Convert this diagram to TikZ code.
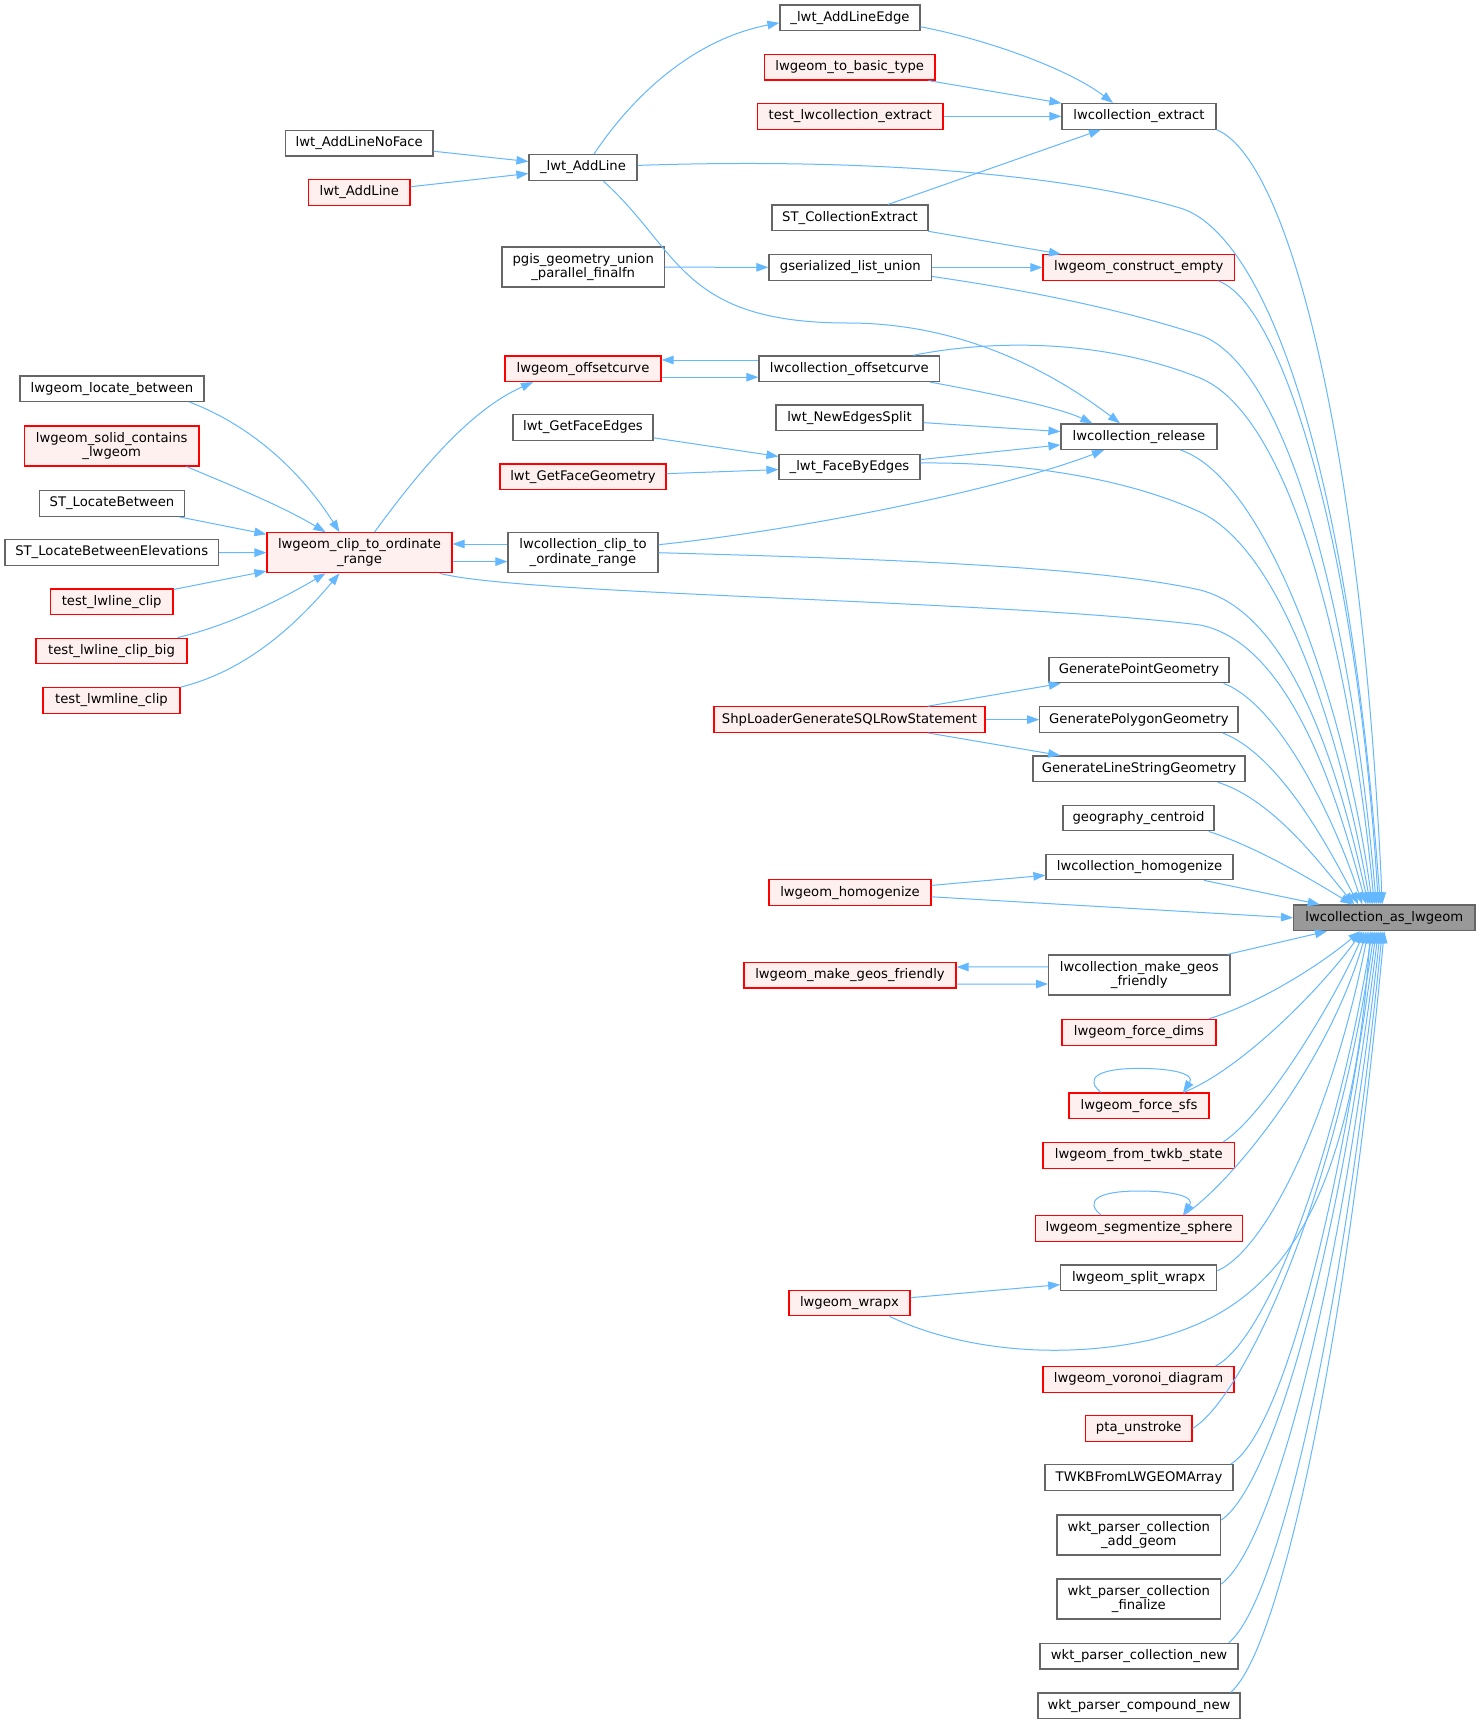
\documentclass[tikz,border=0pt]{standalone}
\usepackage{fontspec}
\setmainfont{DejaVu Sans}
\usetikzlibrary{arrows.meta}
\definecolor{edgeblue}{HTML}{63B8FF}
\definecolor{boxgray}{HTML}{666666}
\definecolor{mainfill}{HTML}{999999}
\definecolor{redfill}{HTML}{FFF0F0}
\definecolor{redline}{HTML}{FF0000}
\newcommand{\nodefont}{\fontsize{13.2pt}{14.6pt}\selectfont}
\tikzset{
  basebox/.style={rectangle, line width=1.2pt, inner sep=0pt, align=center, font=\nodefont, minimum height=25.6},
  gbox/.style={basebox, draw=boxgray, fill=white},
  rbox/.style={basebox, draw=redline, fill=redfill},
  mbox/.style={basebox, draw=boxgray, fill=mainfill},
  conn/.style={draw=edgeblue, line width=1pt, -{Triangle[length=12pt,width=8.5pt]}},
}
\begin{document}
\begin{tikzpicture}[x=1pt,y=-1pt]
\fill[white] (0,0) rectangle (1480,1724);
\useasboundingbox (0,0) rectangle (1480,1724);

% ---------- nodes ----------
\node[gbox, minimum width=140] (ale) at (850,17.8) {\_lwt\_AddLineEdge};
\node[rbox, minimum width=170.5] (tbt) at (849.7,67.2) {lwgeom\_to\_basic\_type};
\node[rbox, minimum width=185.5] (tlce) at (850.2,116.3) {test\_lwcollection\_extract};
\node[gbox, minimum width=154] (lce) at (1139,116.3) {lwcollection\_extract};
\node[gbox, minimum width=147.5] (alnf) at (359.2,143.2) {lwt\_AddLineNoFace};
\node[gbox, minimum width=108] (al) at (583,167.4) {\_lwt\_AddLine};
\node[rbox, minimum width=101.4] (lal) at (359.3,192.5) {lwt\_AddLine};
\node[gbox, minimum width=156] (stce) at (850,217.8) {ST\_CollectionExtract};
\node[gbox, minimum width=162.5, minimum height=40] (pgis) at (583.2,267) {pgis\_geometry\_union\\\_parallel\_finalfn};
\node[gbox, minimum width=162.6] (gsl) at (850.3,267.5) {gserialized\_list\_union};
\node[rbox, minimum width=191.6] (lgce) at (1138.8,267.5) {lwgeom\_construct\_empty};
\node[rbox, minimum width=156] (lgo) at (583,368.7) {lwgeom\_offsetcurve};
\node[gbox, minimum width=180.6] (lco) at (849.3,368.7) {lwcollection\_offsetcurve};
\node[gbox, minimum width=184] (llb) at (112,388.7) {lwgeom\_locate\_between};
\node[gbox, minimum width=140] (gfe) at (583,427.3) {lwt\_GetFaceEdges};
\node[gbox, minimum width=147] (nes) at (849.5,417.8) {lwt\_NewEdgesSplit};
\node[gbox, minimum width=156] (lcr) at (1139,436.7) {lwcollection\_release};
\node[rbox, minimum width=174.5, minimum height=40] (lsc) at (111.7,446) {lwgeom\_solid\_contains\\\_lwgeom};
\node[gbox, minimum width=141] (fbe) at (849.5,467) {\_lwt\_FaceByEdges};
\node[rbox, minimum width=166] (gfg) at (583,476.7) {lwt\_GetFaceGeometry};
\node[gbox, minimum width=145] (stlb) at (112,503.5) {ST\_LocateBetween};
\node[gbox, minimum width=213.5] (stlbe) at (111.7,552.5) {ST\_LocateBetweenElevations};
\node[rbox, minimum width=185, minimum height=40] (lgc) at (359.5,552.7) {lwgeom\_clip\_to\_ordinate\\\_range};
\node[gbox, minimum width=150, minimum height=40] (lcc) at (583,552.7) {lwcollection\_clip\_to\\\_ordinate\_range};
\node[rbox, minimum width=122.5] (tlc) at (111.7,601.7) {test\_lwline\_clip};
\node[rbox, minimum width=151] (tlcb) at (111.5,651) {test\_lwline\_clip\_big};
\node[gbox, minimum width=180] (gpg) at (1139,670) {GeneratePointGeometry};
\node[rbox, minimum width=137] (tlmc) at (111.5,700.5) {test\_lwmline\_clip};
\node[rbox, minimum width=271] (shp) at (849.5,719.6) {ShpLoaderGenerateSQLRowStatement};
\node[gbox, minimum width=198.3] (gpolyg) at (1138.9,719.6) {GeneratePolygonGeometry};
\node[gbox, minimum width=212] (glsg) at (1139,768.8) {GenerateLineStringGeometry};
\node[gbox, minimum width=151] (gc) at (1138.5,818) {geography\_centroid};
\node[gbox, minimum width=187] (lch) at (1139.5,867) {lwcollection\_homogenize};
\node[rbox, minimum width=162] (lgh) at (850,892.6) {lwgeom\_homogenize};
\node[mbox, minimum width=181.4] (lca) at (1384.3,917.8) {lwcollection\_as\_lwgeom};
\node[rbox, minimum width=212] (lgmg) at (850,975.2) {lwgeom\_make\_geos\_friendly};
\node[gbox, minimum width=181.4, minimum height=40] (lcmg) at (1139.3,975) {lwcollection\_make\_geos\\\_friendly};
\node[rbox, minimum width=154] (lfd) at (1139,1032.3) {lwgeom\_force\_dims};
\node[rbox, minimum width=140] (lfs) at (1139,1105.8) {lwgeom\_force\_sfs};
\node[rbox, minimum width=191.6] (lft) at (1138.8,1155.3) {lwgeom\_from\_twkb\_state};
\node[rbox, minimum width=207] (lss) at (1139,1228.4) {lwgeom\_segmentize\_sphere};
\node[gbox, minimum width=156] (lsw) at (1138.7,1277.8) {lwgeom\_split\_wrapx};
\node[rbox, minimum width=121] (lw) at (849.5,1303) {lwgeom\_wrapx};
\node[rbox, minimum width=191] (lvd) at (1138.5,1379.4) {lwgeom\_voronoi\_diagram};
\node[rbox, minimum width=106.6] (pta) at (1138.7,1428.4) {pta\_unstroke};
\node[gbox, minimum width=188] (twkb) at (1139,1477.6) {TWKBFromLWGEOMArray};
\node[gbox, minimum width=163.6, minimum height=40] (wpag) at (1138.8,1535) {wkt\_parser\_collection\\\_add\_geom};
\node[gbox, minimum width=163.6, minimum height=40] (wpf) at (1138.8,1599) {wkt\_parser\_collection\\\_finalize};
\node[gbox, minimum width=198] (wpn) at (1139,1656.2) {wkt\_parser\_collection\_new};
\node[gbox, minimum width=202] (wpcn) at (1139,1705.8) {wkt\_parser\_compound\_new};

% ---------- straight connectors ----------
\draw[conn] (alnf) -- (al);
\draw[conn] (lal) -- (al);
\draw[conn] (tbt) -- (lce);
\draw[conn] (tlce) -- (lce);
\draw[conn] (stce) -- (lce);
\draw[conn] (stce) -- (lgce);
\draw[conn] (gsl) -- (lgce);
\draw[conn] (pgis) -- (gsl);
\draw[conn] (nes) -- (lcr);
\draw[conn] (fbe) -- (lcr);
\draw[conn] (gfe) -- (fbe);
\draw[conn] (gfg) -- (fbe);
\draw[conn] (stlb) -- (lgc);
\draw[conn] (stlbe) -- (lgc);
\draw[conn] (tlc) -- (lgc);
\draw[conn] (shp) -- (gpg);
\draw[conn] (shp) -- (gpolyg);
\draw[conn] (shp) -- (glsg);
\draw[conn] (lgh) -- (lch);
\draw[conn] (lch) -- (lca);
\draw[conn] (lcmg) -- (lca);
\draw[conn] (lw) -- (lsw);
\draw[conn] ([yshift=-4.2pt]lgh.east) -- (lca.west);

% paired horizontal connectors
\draw[conn] ([yshift=8.7pt]lco.west) -- ([yshift=8.7pt]lgo.east);
\draw[conn] ([yshift=-8.5pt]lgo.east) -- ([yshift=-8.5pt]lco.west);
\draw[conn] ([yshift=8.7pt]lcc.west) -- ([yshift=8.7pt]lgc.east);
\draw[conn] ([yshift=-8.9pt]lgc.east) -- ([yshift=-8.9pt]lcc.west);
\draw[conn] ([yshift=8.2pt]lcmg.west) -- ([yshift=8.2pt]lgmg.east);
\draw[conn] ([yshift=-9pt]lgmg.east) -- ([yshift=-9pt]lcmg.west);

% ---------- curved connectors (upper area) ----------
\draw[conn] ([xshift=11pt]al.north) .. controls (630,100) and (690,40) .. ([yshift=-5pt]ale.west);
\draw[conn] ([yshift=-9pt]ale.east) .. controls (990,40) and (1070,70) .. ([xshift=-26pt]lce.north);
\draw[conn] ([xshift=20pt]al.south) .. controls (680,250) and (680,323) .. (848,323)
   .. controls (960,323) and (1050,370) .. ([xshift=-19pt]lcr.north);
\draw[conn] ([xshift=-10pt]lco.south east) .. controls (1000,395) and (1060,408) .. ([xshift=32pt]lcr.north west);
\draw[conn] ([yshift=8pt]lcc.east) .. controls (800,530) and (1000,490) .. ([xshift=-35pt]lcr.south);
\draw[conn] ([xshift=15pt]lgc.north) .. controls (420,470) and (470,410) .. ([xshift=-50pt]lgo.south);
\draw[conn] ([xshift=-15pt]llb.south east) .. controls (250,425) and (300,470) .. ([xshift=-20pt]lgc.north);
\draw[conn] ([xshift=-13pt]lsc.south east) .. controls (230,485) and (280,505) .. ([xshift=-34pt]lgc.north);
\draw[conn] ([xshift=-10pt]tlcb.north east) .. controls (230,625) and (280,600) .. ([xshift=-34pt]lgc.south);
\draw[conn] (tlmc.north east) .. controls (250,670) and (300,620) .. ([xshift=-20pt]lgc.south);

% ---------- into lwcollection_as_lwgeom from above ----------
\draw[conn] (lce.south east) .. controls (1290,160) and (1362,450) .. ([xshift=-2pt]lca.north);
\draw[conn] ([yshift=2pt]al.east) .. controls (850,158) and (1060,172) .. (1180,208)
   .. controls (1255,230) and (1345,420) .. ([xshift=-4pt]lca.north);
\draw[conn] ([xshift=-17pt]lgce.south east) .. controls (1285,305) and (1358,560) .. ([xshift=-6pt]lca.north);
\draw[conn] ([yshift=-9pt]gsl.east) .. controls (1040,292) and (1130,312) .. (1200,335)
   .. controls (1285,365) and (1350,600) .. ([xshift=-8pt]lca.north);
\draw[conn] ([xshift=-27pt]lco.north east) .. controls (990,340) and (1100,338) .. (1200,378)
   .. controls (1290,415) and (1350,650) .. ([xshift=-10pt]lca.north);
\draw[conn] ([xshift=-37pt]lcr.south east) .. controls (1265,478) and (1345,700) .. ([xshift=-12pt]lca.north);
\draw[conn] ([yshift=4pt]fbe.east) .. controls (1030,462) and (1130,480) .. (1200,512)
   .. controls (1290,555) and (1345,760) .. ([xshift=-14pt]lca.north);
\draw[conn] (lcc.east) .. controls (850,558) and (1090,565) .. (1200,590)
   .. controls (1300,615) and (1345,800) .. ([xshift=-16pt]lca.north);
\draw[conn] ([xshift=-13pt]lgc.south east) .. controls (520,595) and (1000,600) .. (1200,625)
   .. controls (1300,645) and (1345,830) .. ([xshift=-18pt]lca.north);
\draw[conn] ([xshift=-6pt]gpg.south east) .. controls (1280,705) and (1335,820) .. ([xshift=-22pt]lca.north);
\draw[conn] ([xshift=-16pt]gpolyg.south east) .. controls (1280,755) and (1330,850) .. ([xshift=-26pt]lca.north);
\draw[conn] ([xshift=-28pt]glsg.south east) .. controls (1275,800) and (1325,870) .. ([xshift=-30pt]lca.north);
\draw[conn] ([xshift=-6pt]gc.south east) .. controls (1260,848) and (1320,885) .. ([xshift=-32pt]lca.north);

% ---------- into lwcollection_as_lwgeom from below ----------
\draw[conn] ([xshift=-8pt]lfd.north east) .. controls (1260,1003) and (1320,965) .. ([xshift=-24pt]lca.south);
\draw[conn] ([xshift=-26pt]lfs.north east) .. controls (1240,1070) and (1320,990) .. ([xshift=-22pt]lca.south);
\draw[conn] ([xshift=-12pt]lft.north east) .. controls (1265,1115) and (1335,1000) .. ([xshift=-20pt]lca.south);
\draw[conn] ([xshift=-59pt]lss.north east) .. controls (1235,1180) and (1330,1060) .. ([xshift=-18pt]lca.south);
\draw[conn] ([yshift=7pt]lsw.east) .. controls (1267,1249) and (1332,1115) .. ([xshift=-16pt]lca.south);
\draw[conn] ([xshift=-21pt]lw.south east) .. controls (960,1350) and (1060,1360) .. (1150,1340)
   .. controls (1250,1315) and (1350,1250) .. ([xshift=-14pt]lca.south);
\draw[conn] ([xshift=-19pt]lvd.north east) .. controls (1265,1340) and (1334,1168) .. ([xshift=-12pt]lca.south);
\draw[conn] (pta.east) .. controls (1243,1398) and (1335,1202) .. ([xshift=-10pt]lca.south);
\draw[conn] ([xshift=-3pt]twkb.north east) .. controls (1280,1434) and (1337,1222) .. ([xshift=-8pt]lca.south);
\draw[conn] ([yshift=15pt]wpag.east) .. controls (1272,1486) and (1339,1253) .. ([xshift=-6pt]lca.south);
\draw[conn] ([yshift=15pt]wpf.east) .. controls (1272,1547) and (1341,1288) .. ([xshift=-4pt]lca.south);
\draw[conn] ([xshift=-10pt]wpn.north east) .. controls (1278,1603) and (1343,1321) .. ([xshift=-2pt]lca.south);
\draw[conn] ([xshift=-10pt]wpcn.north east) .. controls (1280,1650) and (1345,1350) .. (lca.south);

% ---------- self loops ----------
\draw[conn] ([xshift=-38pt]lfs.north) .. controls ([xshift=-54pt,yshift=13pt]lfs.north) and ([xshift=-44pt,yshift=24pt]lfs.north) .. ([yshift=24pt]lfs.north)
   .. controls ([xshift=36pt,yshift=24pt]lfs.north) and ([xshift=56pt,yshift=18pt]lfs.north) .. ([xshift=44pt]lfs.north);
\draw[conn] ([xshift=-38pt]lss.north) .. controls ([xshift=-54pt,yshift=13pt]lss.north) and ([xshift=-44pt,yshift=24pt]lss.north) .. ([yshift=24pt]lss.north)
   .. controls ([xshift=36pt,yshift=24pt]lss.north) and ([xshift=56pt,yshift=18pt]lss.north) .. ([xshift=44pt]lss.north);
\end{tikzpicture}
\end{document}
